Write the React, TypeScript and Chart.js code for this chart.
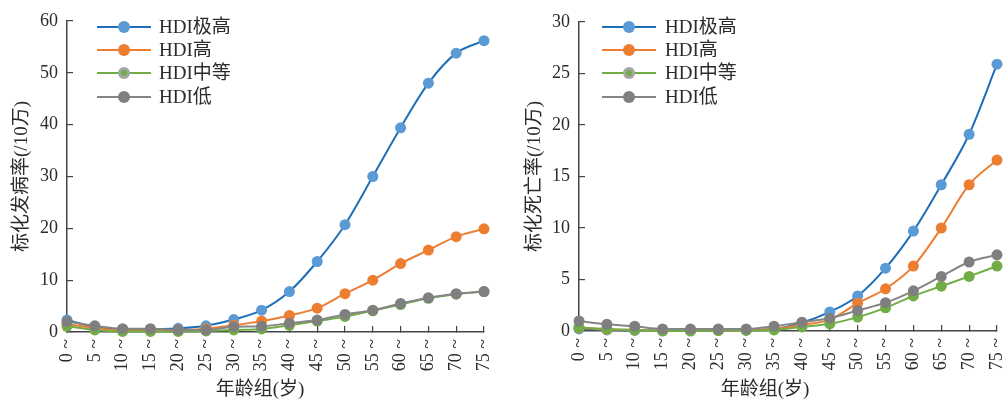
import React, { useEffect, useRef } from 'react';
import { Chart, registerables } from 'chart.js';

Chart.register(...registerables);

const ageGroups = ['0 ~', '5 ~', '10 ~', '15 ~', '20 ~', '25 ~', '30 ~', '35 ~', '40 ~', '45 ~', '50 ~', '55 ~', '60 ~', '65 ~', '70 ~', '75 ~'];
const seriesNames = ['HDI极高', 'HDI高', 'HDI中等', 'HDI低'];

// 标化发病率 (/10万)
const incVeryHigh = [2.3, 1.0, 0.5, 0.5, 0.7, 1.2, 2.4, 4.2, 7.8, 13.6, 20.7, 30.0, 39.4, 48.0, 53.8, 56.2];
const incHigh = [1.5, 0.8, 0.3, 0.3, 0.4, 0.65, 1.3, 2.1, 3.2, 4.6, 7.4, 10.0, 13.2, 15.8, 18.4, 19.9];
const incMedium = [1.1, 0.4, 0.1, 0.1, 0.1, 0.2, 0.4, 0.6, 1.3, 2.1, 3.0, 4.1, 5.3, 6.5, 7.3, 7.8];
const incLow = [2.0, 1.2, 0.65, 0.65, 0.4, 0.4, 1.0, 1.1, 1.7, 2.3, 3.4, 4.2, 5.5, 6.6, 7.4, 7.8];

// 标化死亡率 (/10万)
const deathVeryHigh = [0.2, 0.1, 0.05, 0.05, 0.05, 0.05, 0.1, 0.2, 0.8, 1.85, 3.4, 6.1, 9.7, 14.2, 19.1, 25.9];
const deathHigh = [0.3, 0.15, 0.1, 0.05, 0.05, 0.05, 0.1, 0.2, 0.6, 1.1, 2.7, 4.1, 6.3, 10.0, 14.2, 16.6];
const deathMedium = [0.35, 0.2, 0.1, 0.0, 0.0, 0.05, 0.05, 0.1, 0.4, 0.7, 1.35, 2.25, 3.4, 4.35, 5.3, 6.3];
const deathLow = [0.97, 0.65, 0.46, 0.2, 0.2, 0.2, 0.2, 0.46, 0.85, 1.24, 2.0, 2.75, 3.9, 5.3, 6.7, 7.4];

const lineColors = ['#1f6fb8', '#ed7d31', '#70ad47', '#858585'];
const markerColors = ['#5b9bd5', '#ed7d31', '#70ad47', '#7f7f7f'];
const drawOrder = [3, 2, 1, 0];

const FONT = '"Liberation Serif", "Noto Sans CJK SC", serif';
const TEXT = '#2b2b2b';

type PanelCfg = {
  width: number;
  values: number[][];
  yMax: number;
  yStep: number;
  yTitle: string;
  axisWidth: number;
  padRight: number;
  padTop: number;
  xAxisHeight: number;
  yTitleCenter: number;
  legendLineX: [number, number];
  legendTextX: number;
  legendRows: number[];
  xTitleX: number;
  xTitleY: number;
};

function makeOverlay(cfg: PanelCfg) {
  return {
    id: 'overlay',
    afterDraw(chart: any) {
      const ctx = chart.ctx as CanvasRenderingContext2D;
      ctx.save();
      chart.data.datasets.forEach((ds: any, i: number) => {
        const y = cfg.legendRows[i];
        const [x0, x1] = cfg.legendLineX;
        const xc = (x0 + x1) / 2;
        ctx.strokeStyle = ds.borderColor;
        ctx.lineWidth = 2;
        ctx.beginPath();
        ctx.moveTo(x0, y);
        ctx.lineTo(x1, y);
        ctx.stroke();
        ctx.beginPath();
        ctx.arc(xc, y, 6, 0, Math.PI * 2);
        ctx.fillStyle = i === 2 ? '#a5a5a5' : ds.pointBackgroundColor;
        ctx.fill();
        if (i === 2) {
          ctx.beginPath();
          ctx.arc(xc, y, 3, 0, Math.PI * 2);
          ctx.fillStyle = ds.pointBackgroundColor;
          ctx.fill();
        }
        ctx.fillStyle = TEXT;
        ctx.font = `19px ${FONT}`;
        ctx.textAlign = 'left';
        ctx.textBaseline = 'middle';
        ctx.fillText(ds.label, cfg.legendTextX, y + 1);
      });
      ctx.fillStyle = TEXT;
      ctx.font = `19px ${FONT}`;
      ctx.textAlign = 'center';
      ctx.textBaseline = 'middle';
      ctx.fillText('年龄组(岁)', cfg.xTitleX, cfg.xTitleY);
      ctx.restore();
    },
  };
}

function Panel({ cfg }: { cfg: PanelCfg }) {
  const ref = useRef<HTMLCanvasElement>(null);
  useEffect(() => {
    if (!ref.current) return;
    const chart = new Chart(ref.current, {
      type: 'line',
      data: {
        labels: ageGroups,
        datasets: cfg.values.map((vals, i) => ({
          label: seriesNames[i],
          data: vals,
          borderColor: lineColors[i],
          backgroundColor: markerColors[i],
          pointBackgroundColor: markerColors[i],
          pointBorderWidth: 0,
          pointRadius: 5.5,
          borderWidth: 2,
          cubicInterpolationMode: 'monotone' as const,
          clip: false as any,
          order: drawOrder[i],
        })),
      },
      options: {
        responsive: false,
        animation: false,
        layout: { padding: { left: 0, right: cfg.padRight, top: cfg.padTop, bottom: 0 } },
        plugins: { legend: { display: false }, tooltip: { enabled: false } },
        scales: {
          x: {
            offset: false,
            grid: { drawOnChartArea: false, drawTicks: true, tickLength: -6, color: '#444', lineWidth: 1.2 },
            border: { display: true, color: '#444', width: 1.5 },
            ticks: {
              autoSkip: false,
              minRotation: 90,
              maxRotation: 90,
              padding: 13,
              color: TEXT,
              font: { family: FONT, size: 18 },
            },
            afterFit(scale: any) {
              scale.height = cfg.xAxisHeight;
              scale.paddingLeft = 0;
              scale.paddingRight = 0;
              scale.paddingTop = 0;
              scale.paddingBottom = 0;
            },
          },
          y: {
            min: 0,
            max: cfg.yMax,
            grid: { drawOnChartArea: false, drawTicks: true, tickLength: -6, color: '#444', lineWidth: 1.2 },
            border: { display: true, color: '#444', width: 1.5 },
            ticks: {
              stepSize: cfg.yStep,
              padding: 15,
              color: TEXT,
              font: { family: FONT, size: 18 },
            },
            title: {
              display: true,
              text: cfg.yTitle,
              color: TEXT,
              font: { family: FONT, size: 19 },
              padding: { top: cfg.yTitleCenter - 11.4, bottom: 0 },
            },
            afterFit(scale: any) {
              scale.width = cfg.axisWidth;
              scale.paddingLeft = 0;
              scale.paddingRight = 0;
              scale.paddingTop = 0;
              scale.paddingBottom = 0;
            },
          },
        },
      },
      plugins: [makeOverlay(cfg)],
    });
    return () => chart.destroy();
  }, [cfg]);
  return <canvas ref={ref} width={cfg.width} height={402} style={{ display: 'block' }} />;
}

const leftCfg: PanelCfg = {
  width: 500,
  values: [incVeryHigh, incHigh, incMedium, incLow],
  yMax: 60,
  yStep: 10,
  yTitle: '标化发病率(/10万)',
  axisWidth: 67,
  padRight: 16,
  padTop: 21,
  xAxisHeight: 70,
  yTitleCenter: 22,
  legendLineX: [97, 151],
  legendTextX: 159,
  legendRows: [27, 50, 73, 97],
  xTitleX: 260,
  xTitleY: 390,
};

const rightCfg: PanelCfg = {
  width: 506,
  values: [deathVeryHigh, deathHigh, deathMedium, deathLow],
  yMax: 30,
  yStep: 5,
  yTitle: '标化死亡率(/10万)',
  axisWidth: 79,
  padRight: 9,
  padTop: 22,
  xAxisHeight: 71,
  yTitleCenter: 35,
  legendLineX: [102, 156],
  legendTextX: 165,
  legendRows: [27, 50, 73, 97],
  xTitleX: 265,
  xTitleY: 390,
};

export default function App() {
  return (
    <div style={{ position: 'absolute', left: 0, top: 0, width: 1006, height: 402, display: 'flex', background: '#fff' }}>
      <Panel cfg={leftCfg} />
      <Panel cfg={rightCfg} />
    </div>
  );
}
